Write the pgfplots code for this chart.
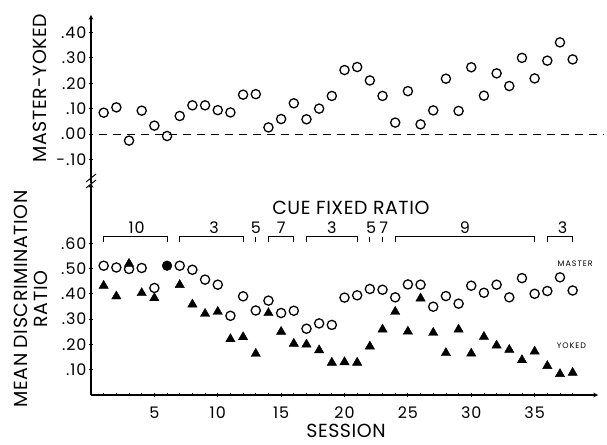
\documentclass[border=0pt]{standalone}
\usepackage{pgfplots}
\pgfplotsset{compat=1.18}
\usepackage{pgfplotstable}
\usepackage{fontspec}
\setmainfont{Poppins}

% master minus yoked, by session
\pgfplotstableread{
s diff
1 0.084
2 0.105
3 -0.026
4 0.092
5 0.033
6 -0.008
7 0.071
8 0.113
9 0.113
10 0.094
11 0.085
12 0.155
13 0.157
14 0.026
15 0.059
16 0.121
17 0.058
18 0.100
19 0.150
20 0.252
21 0.264
22 0.211
23 0.150
24 0.045
25 0.169
26 0.038
27 0.093
28 0.218
29 0.091
30 0.263
31 0.151
32 0.239
33 0.189
34 0.300
35 0.219
36 0.289
37 0.361
38 0.294
}\difftable

% mean discrimination ratio (session 6: both equal, drawn filled)
\pgfplotstableread{
s master yoked
1 0.511 0.432
2 0.504 0.390
3 0.498 0.519
4 0.502 0.403
5 0.423 0.383
6 nan nan
7 0.511 0.435
8 0.495 0.358
9 0.456 0.321
10 0.436 0.329
11 0.313 0.221
12 0.390 0.229
13 0.334 0.163
14 0.373 0.324
15 0.324 0.250
16 0.333 0.203
17 0.262 0.200
18 0.283 0.177
19 0.277 0.128
20 0.385 0.130
21 0.394 0.128
22 0.419 0.192
23 0.416 0.259
24 0.386 0.329
25 0.437 0.251
26 0.436 0.382
27 0.349 0.246
28 0.391 0.166
29 0.361 0.259
30 0.432 0.164
31 0.404 0.230
32 0.436 0.196
33 0.386 0.179
34 0.462 0.138
35 0.400 0.172
36 0.411 0.115
37 0.465 0.083
38 0.413 0.088
}\ratiotable

\newcommand\numfont{\fontsize{16}{16}\selectfont\addfontfeatures{LetterSpace=6}}
\newcommand\labfont{\fontsize{19}{20}\selectfont\addfontfeatures{LetterSpace=3}}

\pgfplotsset{
  panel/.style={
    scale only axis, width=507bp, xmin=0, xmax=40,
    axis line style={-, line width=1.1bp},
    tick style={black, line width=0.8bp},
    tick align=outside, major tick length=4bp, minor tick length=3bp,
    ticklabel style={font=\numfont},
    clip=false,
  },
}

\begin{document}
\begin{tikzpicture}[x=1bp,y=1bp]
\useasboundingbox (0,0) rectangle (607,445);

% top panel
\begin{axis}[panel,
    at={(91bp,262bp)}, anchor=south west,
    height=168bp, ymin=-0.193, ymax=0.469,
    axis x line=none, axis y line=left,
    xtick=\empty,
    ytick={-0.1,0,0.1,0.2,0.3,0.4},
    yticklabels={-.10,.00,.10,.20,.30,.40},
    yticklabel style={xshift=1bp},
]
\draw[dashed, dash pattern=on 8bp off 6bp, line width=1bp] (axis cs:0.6,0) -- (axis cs:40.5,0);
\addplot[only marks, mark=o, mark size=4.6bp, mark options={line width=1.3bp}] table[x=s, y=diff] {\difftable};
\end{axis}

% bottom panel
\begin{axis}[panel,
    at={(91bp,50bp)}, anchor=south west,
    height=212bp, ymin=0, ymax=0.838,
    axis x line=bottom, axis y line=left,
    xtick={5,10,15,20,25,30,35},
    xticklabels={5,10,15,20,25,30,35},
    minor xtick={1,2,...,38},
    xticklabel style={yshift=-6bp},
    ytick={0.1,0.2,0.3,0.4,0.5,0.6},
    yticklabels={.10,.20,.30,.40,.50,.60},
    yticklabel style={xshift=1bp},
]
\addplot[only marks, mark=o, mark size=4.6bp, mark options={line width=1.3bp}] table[x=s, y=master] {\ratiotable};
\addplot[only marks, mark=triangle*, mark size=5.4bp, black] table[x=s, y=yoked] {\ratiotable};
\addplot[only marks, mark=*, mark size=4.9bp, black] coordinates {(6,0.511)};

% cue fixed ratio brackets
\def\by{0.626}\def\bt{0.605}\def\bl{0.66}
\begin{scope}[line width=1bp]
\draw (axis cs:1,\bt) |- (axis cs:6,\by) -- (axis cs:6,\bt);
\draw (axis cs:7,\bt) |- (axis cs:12,\by) -- (axis cs:12,\bt);
\draw (axis cs:13,\bt) -- (axis cs:13,\by);
\draw (axis cs:14,\bt) |- (axis cs:16,\by) -- (axis cs:16,\bt);
\draw (axis cs:17,\bt) |- (axis cs:21,\by) -- (axis cs:21,\bt);
\draw (axis cs:22,\bt) -- (axis cs:22,\by);
\draw (axis cs:23,\bt) -- (axis cs:23,\by);
\draw (axis cs:24,\bt) |- (axis cs:35,\by) -- (axis cs:35,\bt);
\draw (axis cs:36,\bt) |- (axis cs:38,\by) -- (axis cs:38,\bt);
\end{scope}
\begin{scope}[every node/.style={font=\numfont, inner sep=0pt}]
\node at (axis cs:3.6,\bl) {10};
\node at (axis cs:9.7,\bl) {3};
\node at (axis cs:13,\bl) {5};
\node at (axis cs:15,\bl) {7};
\node at (axis cs:19,\bl) {3};
\node at (axis cs:22.1,\bl) {5};
\node at (axis cs:23.1,\bl) {7};
\node at (axis cs:29.5,\bl) {9};
\node at (axis cs:37.2,\bl) {3};
\node[font=\labfont] at (axis cs:20.5,0.74) {CUE FIXED RATIO};
\end{scope}
\node[font=\fontsize{8}{8}\selectfont\addfontfeatures{LetterSpace=12}] at (axis cs:38.2,0.52) {MASTER};
\node[font=\fontsize{8}{8}\selectfont\addfontfeatures{LetterSpace=12}] at (axis cs:37.9,0.195) {YOKED};
\end{axis}

% axis break mark
\draw[line width=1bp] (86,257) -- (96,265);
\draw[line width=1bp] (86,263) -- (96,271);

% axis titles
\node[rotate=90, font=\labfont] at (40,357) {MASTER-YOKED};
\node[rotate=90, align=center, font=\labfont] at (31,146) {MEAN DISCRIMINATION\\RATIO};
\node[font=\labfont] at (346,14) {SESSION};
\end{tikzpicture}
\end{document}
